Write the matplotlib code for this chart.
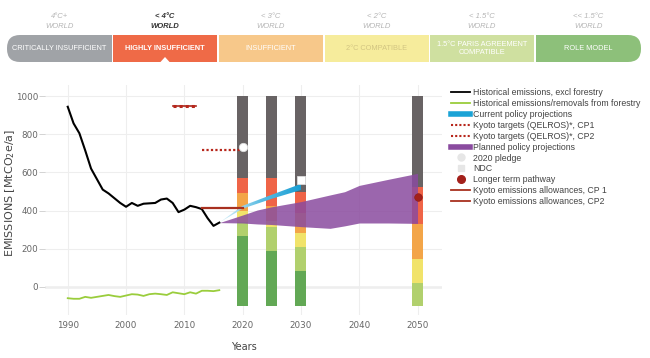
import numpy as np
import matplotlib.pyplot as plt
from matplotlib.lines import Line2D
from matplotlib.patches import FancyBboxPatch, Rectangle, Polygon
from matplotlib.colors import LinearSegmentedColormap

# historical data
hist_years = list(range(1990, 2017))
hist_excl = [944, 857, 805, 715, 620, 565, 510, 490, 465, 440, 420, 440, 425, 436,
             438, 440, 458, 463, 440, 392, 405, 425, 418, 408, 360, 320, 337]
hist_forest = [-59, -62, -62, -52, -57, -52, -47, -42, -48, -52, -45, -38, -40, -47,
               -38, -35, -38, -42, -28, -33, -38, -28, -35, -20, -20, -22, -17]

# rating bars (top of each colour band)
bar_years = [2020, 2025, 2030, 2050]
bar_bottom = [-100, -100, -100, -100]
top_dark_green = [267, 188, 85, -100]
top_light_green = [340, 316, 211, 19]
top_yellow = [400, 345, 284, 147]
top_orange = [490, 425, 390, 330]
top_red = [572, 572, 496, 522]
top_gray = [1000, 1000, 1000, 1000]

# projections
cpp_years = [2016, 2020, 2025, 2030]
cpp_low = [337, 410, 462, 508]
cpp_high = [337, 425, 483, 540]
ppp_years = [2016, 2020, 2022.5, 2025, 2030, 2035, 2037.5, 2040, 2045, 2050]
ppp_low = [337, 335, 330, 327, 316, 307, 320, 335, 335, 333]
ppp_high = [337, 377, 403, 420, 447, 482, 499, 532, 564, 595]

kyoto_cp1 = ([2008, 2012], 950)
kyoto_cp2_target = ([2013, 2020], 717)
kyoto_cp2_allow = ([2013, 2020], 415)
pledge_2020 = (2020, 735)
ndc = (2030, 560)
long_term = (2050, 471)

# header
temps = ["4°C+", "< 4°C", "< 3°C", "< 2°C", "< 1.5°C", "<< 1.5°C"]
ratings = ["CRITICALLY INSUFFICIENT", "HIGHLY INSUFFICIENT", "INSUFFICIENT",
           "2°C COMPATIBLE", "1.5°C PARIS AGREEMENT\nCOMPATIBLE", "ROLE MODEL"]
rating_colors = ["#a0a3a7", "#ef6a47", "#f7c88a", "#f6ec9c", "#cfe0a0", "#8dc07a"]
rating_text = ["white", "white", "white", "#d2c582", "white", "white"]

fig = plt.figure(figsize=(6.5, 3.58), dpi=100)
narrow = "Liberation Sans"

# ---- header strip in pixel coords
hx = fig.add_axes([0, 1 - 75 / 358, 1, 75 / 358])
hx.set_xlim(0, 650)
hx.set_ylim(75, 0)
hx.axis("off")
seg_x = [7, 113, 219, 325, 430, 536]
seg_w = 104
for i, (lab, col) in enumerate(zip(ratings, rating_colors)):
    x0 = seg_x[i]
    w = 105 if i in (0, 5) else seg_w
    if i in (0, 5):
        hx.add_patch(FancyBboxPatch((x0, 35), w, 27, boxstyle="round,pad=0,rounding_size=13",
                                    fc=col, ec="none"))
        hx.add_patch(Rectangle((x0 + (w / 2 if i == 0 else 0), 35), w / 2, 27, fc=col, ec="none"))
    else:
        hx.add_patch(Rectangle((x0, 35), w, 27, fc=col, ec="none"))
    cx = x0 + w / 2
    bold = i == 1
    hx.text(cx, 48.5, lab, ha="center", va="center", fontsize=5.3, color=rating_text[i],
            family=narrow, fontweight="bold" if bold else "normal", linespacing=1.3)
    hx.text(cx, 17, temps[i], ha="center", va="center", fontsize=5.5, style="italic",
            family=narrow, color="#333333" if bold else "#b5b5b5",
            fontweight="bold" if bold else "normal")
    hx.text(cx, 27, "WORLD", ha="center", va="center", fontsize=5.5, style="italic",
            family=narrow, color="#333333" if bold else "#b5b5b5",
            fontweight="bold" if bold else "normal")
hx.add_patch(Polygon([[160, 62.5], [170, 62.5], [165, 57]], fc="white", ec="none"))

# ---- main chart
ax = fig.add_axes([45 / 650, 1 - 315 / 358, 397 / 650, 230 / 358])
ax.set_xlim(1986.1, 2054.2)
ax.set_ylim(-147, 1058)
for s in ax.spines.values():
    s.set_visible(False)
ax.set_xticks(range(1990, 2051, 10))
ax.set_yticks(range(0, 1001, 200))
ax.grid(True, color="#eeeeee", lw=0.8, zorder=0)
ax.axhline(0, color="#999999", lw=0.9, zorder=1)
ax.tick_params(axis="x", length=0, labelsize=6.3, labelcolor="#666666", pad=4)
ax.tick_params(axis="y", length=4, width=0.6, color="#cccccc", labelsize=6.3,
               labelcolor="#666666", pad=1)

bands = [bar_bottom, top_dark_green, top_light_green, top_yellow, top_orange, top_red, top_gray]
band_colors = ["#62a855", "#b1d06d", "#f1e36a", "#f3a548", "#ef6447", "#686364"]
for lo, hi, col in zip(bands[:-1], bands[1:], band_colors):
    h = np.array(hi) - np.array(lo)
    ax.bar(bar_years, h, bottom=lo, width=1.9, color=col, zorder=2, lw=0)

ax.fill_between(ppp_years, ppp_low, ppp_high, color="#8a4b9f", alpha=0.85, lw=0, zorder=3)

# current policy band with a fade from its start
poly = ax.fill_between(cpp_years, cpp_low, cpp_high, color="none", lw=0, zorder=4)
grad = np.linspace(0, 1, 256).reshape(1, -1)
cmap = LinearSegmentedColormap.from_list("blue", ["#e3f4fb", "#5cbde3", "#1a9fd4"])
img = ax.imshow(grad, extent=[cpp_years[0], cpp_years[-1], min(cpp_low), max(cpp_high)],
                aspect="auto", cmap=cmap, zorder=4)
img.set_clip_path(poly.get_paths()[0], transform=ax.transData)

ax.plot(hist_years, hist_excl, color="black", lw=1.5, zorder=5)
ax.plot(hist_years, hist_forest, color="#9acd3c", lw=1.3, zorder=5)

ax.plot(kyoto_cp1[0], [kyoto_cp1[1]] * 2, color="#a8281c", lw=1.2, zorder=5)
ax.plot(kyoto_cp1[0], [kyoto_cp1[1]] * 2, color="#b7261b", lw=2.2, ls=(0, (1, 1)), zorder=5)
ax.plot(kyoto_cp2_target[0], [kyoto_cp2_target[1]] * 2, color="#b7261b", lw=1.6,
        ls=(0, (1, 1)), zorder=5)
ax.plot(kyoto_cp2_allow[0], [kyoto_cp2_allow[1]] * 2, color="#a8301f", lw=1.6, zorder=5)

ax.plot(*pledge_2020, "o", ms=6, mfc="white", mec="#dddddd", mew=0.6, zorder=6)
ax.plot(*ndc, "s", ms=6, mfc="white", mec="#dddddd", mew=0.6, zorder=6)
ax.plot(*long_term, "o", ms=5.5, mfc="#a3201b", mec="#8a1a16", mew=0.4, zorder=6)

ax.set_xlabel("Years", fontsize=7, color="#444444", labelpad=9)
ax.set_ylabel("EMISSIONS [MtCO$_2$e/a]", fontsize=8, color="#444444")
ax.yaxis.set_label_coords(-0.07, 0.53)

handles = [
    Line2D([], [], color="black", lw=1.3),
    Line2D([], [], color="#9acd3c", lw=1.3),
    Line2D([], [], color="#1ba3d6", lw=4),
    Line2D([], [], color="#b7261b", lw=1.5, ls=(0, (1, 1))),
    Line2D([], [], color="#b7261b", lw=1.5, ls=(0, (1, 1))),
    Line2D([], [], color="#8a4b9f", lw=4),
    Line2D([], [], ls="none", marker="o", ms=5, mfc="#e6e6e6", mec="#e6e6e6"),
    Line2D([], [], ls="none", marker="s", ms=5, mfc="#e6e6e6", mec="#e6e6e6"),
    Line2D([], [], ls="none", marker="o", ms=5.5, mfc="#a3201b", mec="#a3201b"),
    Line2D([], [], color="#a8301f", lw=1.3),
    Line2D([], [], color="#a8301f", lw=1.3),
]
labels = ["Historical emissions, excl forestry", "Historical emissions/removals from forestry",
          "Current policy projections", "Kyoto targets (QELROS)*, CP1",
          "Kyoto targets (QELROS)*, CP2", "Planned policy projections", "2020 pledge", "NDC",
          "Longer term pathway", "Kyoto emissions allowances, CP 1",
          "Kyoto emissions allowances, CP2"]
leg = fig.legend(handles, labels, loc="upper left", bbox_to_anchor=(451 / 650, 1 - 88 / 358),
                 frameon=False, prop={"family": narrow, "size": 6.3}, labelspacing=0.22,
                 handlelength=2.2, handletextpad=0.35, borderaxespad=0, borderpad=0)
for t in leg.get_texts():
    t.set_color("#444444")

fig.savefig("out.png", dpi=100)
